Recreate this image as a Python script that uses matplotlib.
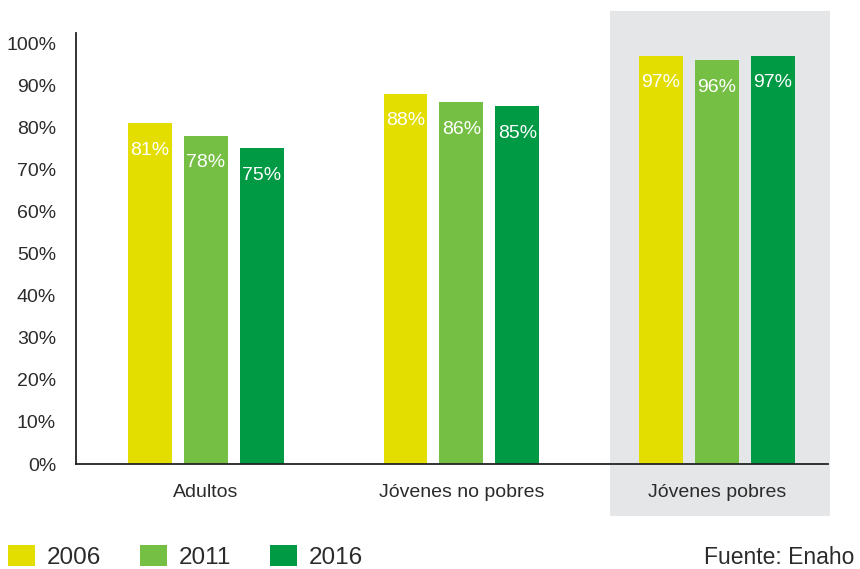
import numpy as np
import matplotlib
matplotlib.use('Agg')
import matplotlib.pyplot as plt
from matplotlib.patches import Rectangle, Patch

plt.rcParams['font.family'] = ['Liberation Sans', 'DejaVu Sans']

groups = ['Adultos', 'Jóvenes no pobres', 'Jóvenes pobres']
years = ['2006', '2011', '2016']
v2006 = [81, 88, 97]
v2011 = [78, 86, 96]
v2016 = [75, 85, 97]
yticks = [0, 10, 20, 30, 40, 50, 60, 70, 80, 90, 100]

colors = ['#e3de00', '#76bf45', '#009a44']
txt = '#2b2b2b'

fig = plt.figure(figsize=(8.6, 5.69), dpi=100)
ax = fig.add_axes([0.0884, 0.1845, 0.8744, 0.7575])

x = np.arange(len(groups))
step = 0.219
width = 0.172

# shaded background behind the last group
ax.add_patch(Rectangle((1.582, -12.4), 0.859, 120.0, facecolor='#e5e6e8',
                       edgecolor='none', clip_on=False, zorder=0))

for i, vals in enumerate([v2006, v2011, v2016]):
    xs = x + (i - 1) * step
    ax.bar(xs, vals, width=width, color=colors[i], zorder=2)
    for xi, v in zip(xs, vals):
        ax.annotate(f'{v}%', (xi, v), xytext=(0, -19.5), textcoords='offset points',
                    ha='center', va='center', color='white', fontsize=14,
                    zorder=3)

ax.set_xlim(-0.508, 2.434)
ax.set_ylim(0, 102.4)
ax.set_yticks(yticks)
ax.set_yticklabels([f'{t}%' for t in yticks])
ax.set_xticks(x)
ax.set_xticklabels(groups)
ax.tick_params(axis='both', length=0, labelsize=14, labelcolor=txt)
ax.tick_params(axis='y', pad=14.4)
ax.tick_params(axis='x', pad=14.4)

for s in ['top', 'right']:
    ax.spines[s].set_visible(False)
for s in ['left', 'bottom']:
    ax.spines[s].set_color('#222222')
    ax.spines[s].set_linewidth(1.3)
    ax.spines[s].set_zorder(4)
ax.set_facecolor('none')

handles = [Patch(facecolor=c, edgecolor='none') for c in colors]
fig.legend(handles, years, loc='center left', bbox_to_anchor=(8 / 860, 12 / 569),
           ncol=3, frameon=False, fontsize=17.5, handlelength=1.1, handleheight=0.98,
           handletextpad=0.5, columnspacing=1.6, borderpad=0, borderaxespad=0,
           labelcolor=txt)

fig.text(704 / 860, 12 / 569, 'Fuente: Enaho', ha='left', va='center',
         fontsize=16.5, color=txt)

fig.savefig('out.png', dpi=100)
